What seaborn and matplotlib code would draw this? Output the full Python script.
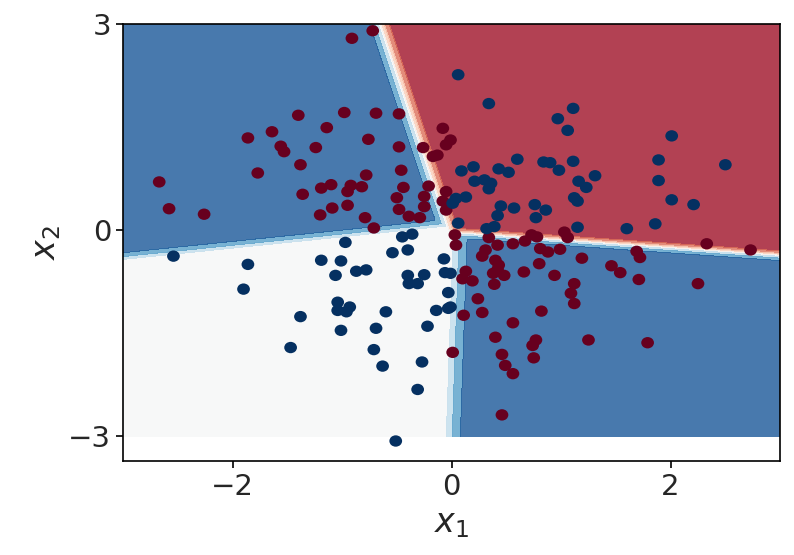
import numpy as np
import pandas as pd
import matplotlib
matplotlib.use("Agg")
import matplotlib.pyplot as plt
from matplotlib.path import Path
from matplotlib.transforms import Affine2D
import seaborn as sns

# points of class 0 (dark red) and class 1 (dark blue)
red_x = [-1.86, -1.64, -1.56, -1.53, -1.77, -0.91, -0.72, -1.40, -0.98, -0.69,
         -0.48, -1.14, -0.76, -1.24, -0.48, -0.26, -1.38, -0.08, -0.01, -0.05,
         -0.17, -0.13, -0.46, -2.67, -2.58, -2.26, -0.78, -1.19, -1.10, -1.36,
         -0.92, -0.95, -0.82, -1.09, -1.20, -0.95, -0.79, -0.71, -0.44, -0.50,
         -0.21, -0.25, -0.48, -0.39, -0.29, -0.25, -0.05, -0.08, -0.05, 0.03,
         0.04, 0.34, 0.42, 0.56, 0.67, 0.73, 0.78, 1.03, 1.06, 0.31,
         0.28, 0.81, 0.88, 0.99, 1.19, 0.40, 0.43, 0.38, 0.48, 0.42,
         0.80, 0.66, 0.94, 0.13, 0.10, 0.19, 0.39, 1.12, 1.09, 1.12,
         0.24, 0.82, 0.11, 0.28, 1.46, 1.54, 0.56, 0.40, 0.74, 0.77,
         0.75, 0.46, 0.49, 0.56, 1.25, 0.01, 0.46, 2.33, 2.73, 1.69,
         1.72, 1.71, 2.25, 1.79]
red_y = [1.34, 1.43, 1.22, 1.14, 0.83, 2.79, 2.90, 1.67, 1.71, 1.70,
         1.69, 1.49, 1.32, 1.20, 1.21, 1.20, 0.95, 1.48, 1.31, 1.24,
         1.07, 1.09, 0.87, 0.70, 0.31, 0.23, 0.80, 0.61, 0.66, 0.52,
         0.65, 0.56, 0.63, 0.32, 0.22, 0.36, 0.18, 0.03, 0.62, 0.47,
         0.64, 0.49, 0.30, 0.20, 0.18, 0.34, 0.56, 0.42, 0.29, -0.07,
         -0.22, -0.11, -0.22, -0.20, -0.16, -0.07, -0.10, -0.03, -0.11, -0.29,
         -0.38, -0.27, -0.32, -0.28, -0.41, -0.44, -0.51, -0.63, -0.66, -0.58,
         -0.49, -0.61, -0.66, -0.60, -0.71, -0.74, -0.79, -0.78, -0.92, -1.07,
         -1.00, -1.18, -1.24, -1.20, -0.52, -0.62, -1.35, -1.56, -1.68, -1.60,
         -1.86, -1.81, -1.97, -2.09, -1.60, -1.78, -2.69, -0.20, -0.29, -0.31,
         -0.40, -0.72, -0.78, -1.64]
blue_x = [0.06, 0.34, 1.11, 0.97, 1.06, 0.60, 0.84, 0.90, 1.11, 0.09,
          0.20, 0.43, 0.52, 0.98, 2.01, 1.89, 2.50, -2.54, -1.86, -1.90,
          -0.97, -0.45, -0.36, -0.54, -0.40, -1.19, -1.01, -1.06, -0.87, -0.78,
          -0.07, -0.40, -0.25, -0.31, -0.39, -0.06, -0.01, -0.03, -1.04, -0.93,
          -1.04, -0.96, -0.60, -1.38, -0.14, -0.03, -0.01, -1.01, -0.69, -0.22,
          -1.47, -0.71, -0.63, -0.27, -0.31, -0.51, 0.21, 0.30, 0.36, 0.34,
          1.16, 1.31, 1.23, 1.12, 1.15, 0.04, 0.13, 0.01, 0.45, 0.57,
          0.42, 0.76, 0.86, 0.77, 0.06, 0.32, 0.39, 1.15, 1.89, 2.01,
          2.21, 1.60, 1.86]
blue_y = [2.26, 1.84, 1.77, 1.62, 1.45, 1.03, 0.99, 0.98, 1.00, 0.86,
          0.92, 0.89, 0.84, 0.87, 1.37, 1.02, 0.95, -0.38, -0.50, -0.86,
          -0.18, -0.10, -0.06, -0.33, -0.29, -0.44, -0.45, -0.66, -0.60, -0.58,
          -0.42, -0.66, -0.65, -0.78, -0.78, -0.62, -0.63, -0.91, -1.05, -1.12,
          -1.17, -1.19, -1.19, -1.26, -1.17, -1.14, -1.12, -1.46, -1.43, -1.40,
          -1.71, -1.74, -1.98, -1.92, -2.32, -3.07, 0.71, 0.73, 0.68, 0.60,
          0.71, 0.79, 0.62, 0.47, 0.42, 0.46, 0.48, 0.39, 0.35, 0.32,
          0.21, 0.37, 0.29, 0.18, 0.10, 0.02, 0.05, 0.04, 0.72, 0.44,
          0.37, 0.02, 0.09]

# decision regions of the classifier: boundary lines (two points each) and sharpness
line_a = [(-0.04, 0.04), (-0.66, 3.0)]     # upper-left blue | upper-right red
line_b = [(3.0, -0.375), (0.08, -0.05)]    # upper-right red | lower-right blue
line_c = [(-3.0, -0.44), (-0.02, 0.05)]    # upper-left blue | lower-left white
line_d = [(0.0, 0.0), (-0.065, -3.0)]      # lower-left white | lower-right blue
sharp = [20, 25, 16, 12]
levels = [0, 0.15, 0.3, 0.45, 0.55, 0.7, 0.85, 1.0]


def side(line, X, Y):
    (px, py), (qx, qy) = line
    n = np.hypot(qx - px, qy - py)
    return ((qx - px) * (Y - py) - (qy - py) * (X - px)) / n


xx, yy = np.meshgrid(np.arange(-3, 3.001, 0.02), np.arange(-3, 3.001, 0.02))
da = sharp[0] * side(line_a, xx, yy)
db = sharp[1] * side(line_b, xx, yy)
dc = sharp[2] * side(line_c, xx, yy)
dd = sharp[3] * side(line_d, xx, yy)
f = (np.maximum(np.minimum(da, dc), 0) + np.maximum(np.minimum(db, dd), 0)
     - np.maximum(np.minimum(-da, -db), 0))
zz = 1 / (1 + np.exp(-f))

df = pd.DataFrame({
    "x1": red_x + blue_x,
    "x2": red_y + blue_y,
    "label": [0] * len(red_x) + [1] * len(blue_x),
})

sns.set_style("ticks")
plt.rcParams["font.family"] = ["DejaVu Sans"]

fig = plt.figure(figsize=(7.94, 5.55), dpi=100)
ax = fig.add_axes([0.155, 0.169, 0.8275, 0.788])
ax.contourf(xx, yy, zz, levels=levels, cmap="RdBu", alpha=0.8)

dot = Path.unit_circle().transformed(Affine2D().scale(1.12, 1.0))
sns.scatterplot(data=df, x="x1", y="x2", hue="label",
                palette={0: "#67001f", 1: "#053061"}, marker=dot, s=84,
                linewidth=0, legend=False, ax=ax, zorder=3)

ax.set_xlim(-3, 3)
ax.set_ylim(-3.364, 3)
ax.set_xticks([-2, 0, 2])
ax.set_yticks([-3, 0, 3])
ax.tick_params(labelsize=21, length=5, width=1.2, color="black")
ax.set_xlabel("$x_1$", fontsize=24)
ax.set_ylabel("$x_2$", fontsize=24)
for sp in ax.spines.values():
    sp.set_color("black")
    sp.set_linewidth(1.2)

fig.savefig("out.png", dpi=100)
